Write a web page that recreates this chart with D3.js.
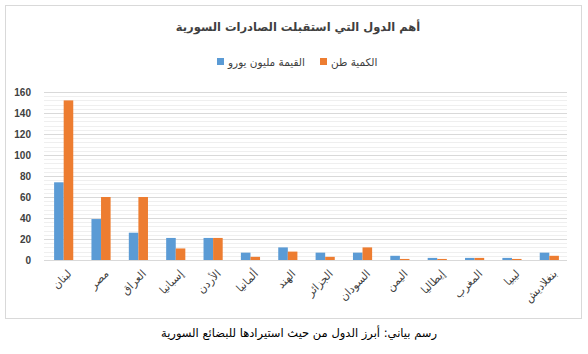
<!DOCTYPE html>
<html>
<head>
<meta charset="utf-8">
<script src="https://cdn.jsdelivr.net/npm/d3@7"></script>
<style>
  body { margin: 0; background: #fff; }
  text { font-family: "DejaVu Sans", "Liberation Sans", sans-serif; }
</style>
</head>
<body>
<div id="chart"></div>
<script>
  // data
  var countries = ["لبنان", "مصر", "العراق", "إسبانيا", "الأردن", "ألمانيا", "الهند",
                   "الجزائر", "السودان", "اليمن", "إيطاليا", "المغرب", "ليبيا", "بنغلاديش"];
  var valueEuro = [74, 39, 26, 21, 21, 7, 12, 7, 7, 4, 2, 2, 2, 7];   // القيمة مليون يورو
  var tonnes    = [152, 60, 60, 11, 21, 3, 8, 3, 12, 1, 1, 2, 1, 4];  // الكمية طن
  var yTicks = [0, 20, 40, 60, 80, 100, 120, 140, 160];

  var blue = "#5B9BD5", orange = "#ED7D31";

  var W = 588, H = 354;
  var plot = { left: 44, right: 567, top: 92, bottom: 260 };

  var svg = d3.select("#chart").append("svg")
      .attr("width", W)
      .attr("height", H);

  // chart frame
  svg.append("rect")
      .attr("x", 5.5).attr("y", 5.5)
      .attr("width", 576).attr("height", 313)
      .attr("fill", "#fff")
      .attr("stroke", "#d9d9d9");

  // title
  svg.append("text")
      .attr("x", 298).attr("y", 31)
      .attr("text-anchor", "middle")
      .style("font-size", "11.5px")
      .style("font-weight", "bold")
      .attr("fill", "#404040")
      .text("أهم الدول التي استقبلت الصادرات السورية");

  // scales
  var x = d3.scaleBand()
      .domain(countries)
      .range([plot.left, plot.right]);

  var y = d3.scaleLinear()
      .domain([0, 160])
      .range([plot.bottom, plot.top]);

  var xSub = d3.scaleBand()
      .domain(["euro", "ton"])
      .range([0, x.bandwidth()])
      .paddingInner(0)
      .paddingOuter(0.95);

  // minor gridlines
  svg.append("g")
      .selectAll("line")
      .data(d3.range(4, 160, 4).filter(function (d) { return d % 20 !== 0; }))
      .enter()
      .append("line")
      .attr("x1", plot.left).attr("x2", plot.right)
      .attr("y1", function (d) { return Math.round(y(d)) + 0.5; })
      .attr("y2", function (d) { return Math.round(y(d)) + 0.5; })
      .attr("stroke", "#efefef");

  // major gridlines + tick labels
  var yAxis = svg.append("g")
      .attr("transform", "translate(" + plot.left + ",0)")
      .call(d3.axisLeft(y).tickValues(yTicks).tickSize(-(plot.right - plot.left)).tickPadding(13));
  yAxis.select(".domain").remove();
  yAxis.selectAll(".tick line").attr("stroke", "#d9d9d9");
  yAxis.selectAll(".tick text")
      .attr("fill", "#404040")
      .style("font-size", "10px")
      .style("font-family", "'Liberation Sans', sans-serif")
      .style("font-weight", "bold");

  // bars
  var groups = svg.append("g")
      .selectAll("g")
      .data(countries)
      .enter()
      .append("g")
      .attr("transform", function (d) { return "translate(" + (x(d) + 1) + ",0)"; });

  groups.append("rect")
      .attr("x", xSub("euro"))
      .attr("width", xSub.bandwidth())
      .attr("y", function (d, i) { return y(valueEuro[i]); })
      .attr("height", function (d, i) { return y(0) - y(valueEuro[i]); })
      .attr("fill", blue);

  groups.append("rect")
      .attr("x", xSub("ton"))
      .attr("width", xSub.bandwidth())
      .attr("y", function (d, i) { return y(tonnes[i]); })
      .attr("height", function (d, i) { return y(0) - y(tonnes[i]); })
      .attr("fill", orange);

  // x labels, rotated
  svg.append("g")
      .selectAll("text")
      .data(countries)
      .enter()
      .append("text")
      .attr("text-anchor", "end")
      .attr("transform", function (d) {
          return "translate(" + (x(d) + x.bandwidth() / 2 + 4) + "," + 269 + ") rotate(-45)";
      })
      .attr("dy", "0.7em")
      .style("font-size", "11px")
      .attr("fill", "#404040")
      .text(function (d) { return d; });

  // legend
  var legendData = [
      { label: "القيمة مليون يورو", color: blue, x: 217 },
      { label: "الكمية طن", color: orange, x: 320 }
  ];
  var legend = svg.append("g");
  legend.selectAll("rect")
      .data(legendData)
      .enter()
      .append("rect")
      .attr("x", function (d) { return d.x; })
      .attr("y", 58)
      .attr("width", 7).attr("height", 7)
      .attr("fill", function (d) { return d.color; });
  legend.selectAll("text")
      .data(legendData)
      .enter()
      .append("text")
      .attr("x", function (d) { return d.x + 11; })
      .attr("y", 62)
      .attr("dy", "0.35em")
      .style("font-size", "10.5px")
      .attr("fill", "#404040")
      .text(function (d) { return d.label; });

  // caption under the frame
  svg.append("text")
      .attr("x", 299).attr("y", 337)
      .attr("text-anchor", "middle")
      .style("font-size", "11.5px")
      .attr("fill", "#000")
      .text("رسم بياني: أبرز الدول من حيث استيرادها للبضائع السورية");
</script>
</body>
</html>
